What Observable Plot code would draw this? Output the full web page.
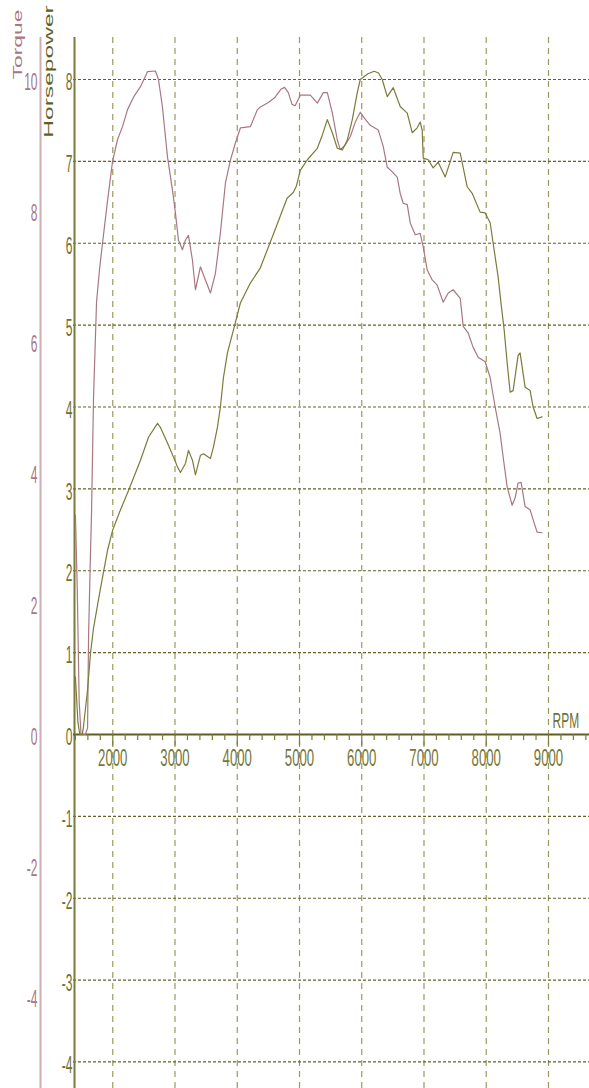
<!DOCTYPE html>
<html>
<head>
<meta charset="utf-8">
<script src="https://cdn.jsdelivr.net/npm/d3@7"></script>
<script src="https://cdn.jsdelivr.net/npm/@observablehq/plot@0.6"></script>
<style>
  html, body { margin: 0; padding: 0; background: #fff; }
</style>
</head>
<body>
<div id="chart"></div>
<script>
// Dyno run: engine speed (RPM) against horsepower and torque
const hpRpm = [1400, 1440, 1470, 1510, 1530, 1595, 1643, 1691, 1771, 1835, 1916, 1996, 2100, 2253, 2445, 2574, 2718, 2766, 2879, 2975, 3039, 3087, 3168, 3216, 3280, 3328, 3408, 3457, 3569, 3617, 3681, 3729, 3778, 3842, 3938, 4050, 4200, 4371, 4600, 4800, 4900, 4950, 5013, 5126, 5286, 5366, 5447, 5527, 5607, 5688, 5768, 5848, 5928, 5976, 6100, 6200, 6270, 6329, 6410, 6506, 6618, 6731, 6811, 6891, 6939, 6971, 6988, 7068, 7148, 7228, 7341, 7469, 7582, 7694, 7774, 7902, 7983, 8063, 8111, 8191, 8240, 8288, 8336, 8384, 8432, 8512, 8544, 8625, 8705, 8753, 8817, 8897];
const hpValues = [0.7, 0.15, 0, 0, 0.1, 0.55, 1.0, 1.3, 1.65, 1.92, 2.25, 2.49, 2.7, 2.98, 3.35, 3.63, 3.8, 3.75, 3.56, 3.39, 3.27, 3.2, 3.31, 3.47, 3.35, 3.17, 3.41, 3.43, 3.37, 3.51, 3.75, 4.0, 4.36, 4.66, 4.94, 5.27, 5.5, 5.7, 6.15, 6.55, 6.62, 6.7, 6.89, 7.02, 7.16, 7.32, 7.51, 7.35, 7.16, 7.14, 7.26, 7.51, 7.84, 8.0, 8.07, 8.1, 8.08, 8.0, 7.79, 7.9, 7.67, 7.59, 7.35, 7.41, 7.48, 7.38, 7.04, 7.02, 6.92, 6.99, 6.81, 7.11, 7.1, 6.69, 6.61, 6.38, 6.37, 6.25, 6.0, 5.59, 5.25, 4.94, 4.54, 4.18, 4.2, 4.63, 4.66, 4.24, 4.2, 4.0, 3.86, 3.88];

const torqueRpm = [1400, 1430, 1460, 1490, 1560, 1595, 1611, 1635, 1659, 1691, 1739, 1787, 1835, 1916, 1996, 2076, 2156, 2237, 2333, 2445, 2558, 2686, 2734, 2798, 2879, 2959, 3007, 3055, 3119, 3168, 3216, 3280, 3328, 3408, 3489, 3569, 3649, 3729, 3810, 3890, 3970, 4050, 4211, 4323, 4371, 4500, 4600, 4700, 4760, 4820, 4880, 4930, 5013, 5174, 5286, 5382, 5447, 5527, 5607, 5655, 5736, 5816, 5896, 5976, 6057, 6137, 6265, 6345, 6410, 6490, 6570, 6618, 6666, 6731, 6779, 6859, 6939, 6988, 7052, 7132, 7212, 7309, 7389, 7469, 7582, 7630, 7710, 7790, 7870, 7983, 8063, 8143, 8223, 8271, 8336, 8416, 8464, 8512, 8560, 8625, 8705, 8753, 8817, 8897];
const torqueValues = [3.35, 2.2, 0.5, 0, 0, 0.1, 1.5, 2.5, 3.4, 5.15, 6.6, 7.1, 7.5, 8.15, 8.75, 9.08, 9.28, 9.54, 9.73, 9.89, 10.12, 10.13, 10.0, 9.58, 8.82, 8.31, 7.96, 7.55, 7.4, 7.55, 7.62, 7.24, 6.79, 7.14, 6.94, 6.74, 7.04, 7.66, 8.42, 8.77, 9.03, 9.26, 9.28, 9.54, 9.58, 9.65, 9.72, 9.85, 9.88, 9.8, 9.62, 9.6, 9.76, 9.76, 9.64, 9.8, 9.8, 9.49, 9.08, 8.93, 9.0, 9.13, 9.35, 9.5, 9.39, 9.3, 9.23, 8.98, 8.66, 8.59, 8.51, 8.26, 8.11, 8.09, 7.81, 7.63, 7.65, 7.44, 7.09, 6.94, 6.86, 6.6, 6.74, 6.79, 6.66, 6.23, 6.13, 5.91, 5.76, 5.69, 5.45, 5.0, 4.6, 4.24, 3.78, 3.5, 3.61, 3.84, 3.85, 3.48, 3.43, 3.28, 3.09, 3.08];

// Axis ticks
const rpmTicks = [2000, 3000, 4000, 5000, 6000, 7000, 8000, 9000];
const rpmMinorTicks = d3.range(1400, 9700, 200).filter(r => r % 1000 !== 0);
const hpTicks = [8, 7, 6, 5, 4, 3, 2, 1, 0, -1, -2, -3, -4];
const torqueTicks = [10, 8, 6, 4, 2, 0, -2, -4];
const torquePerHpUnit = 1.25; // torque axis: 10 lines up with 8 hp

const hpData = hpRpm.map((r, i) => ({rpm: r, hp: hpValues[i]}));
const torqueData = torqueRpm.map((r, i) => ({rpm: r, torque: torqueValues[i]}));

const xDomain = [1369, 9659];
const yDomain = [-4.324, 8.513];

const olive = "#7b7b3a";
const oliveDark = "#5e5e22";
const gridH = "#626226";
const gridV = "#9a9a5e";
const pink = "#a87882";
const pinkAxis = "#cdaeb3";
const font = "'Liberation Sans', Arial, sans-serif";

const chart = Plot.plot({
  width: 589,
  height: 1088,
  marginLeft: 73,
  marginRight: 0,
  marginTop: 37,
  marginBottom: 0,
  style: {fontFamily: font, background: "#fff", overflow: "visible"},
  x: {type: "linear", domain: xDomain, axis: null},
  y: {type: "linear", domain: yDomain, axis: null},
  marks: [
    // grid
    Plot.ruleX(rpmTicks, {stroke: gridV, strokeWidth: 1.2, strokeDasharray: "6,5"}),
    Plot.ruleY(hpTicks.filter(v => v !== 0), {stroke: gridH, strokeWidth: 1.2, strokeDasharray: "3,2"}),
    // axis lines
    Plot.ruleX([xDomain[0]], {stroke: pinkAxis, strokeWidth: 2, dx: -33}),
    Plot.ruleX([xDomain[0]], {stroke: olive, strokeWidth: 2, dx: 1}),
    Plot.ruleY([0], {stroke: oliveDark, strokeWidth: 2}),
    // RPM ticks below the zero line
    Plot.ruleX(rpmMinorTicks, {y1: 0, y2: -0.075, stroke: olive, strokeWidth: 1.2}),
    Plot.ruleX(rpmTicks, {y1: 0, y2: -0.14, stroke: olive, strokeWidth: 1.2}),
    // curves
    Plot.line(torqueData, {x: "rpm", y: d => d.torque / torquePerHpUnit, stroke: pink, strokeWidth: 1.2}),
    Plot.line(hpData, {x: "rpm", y: "hp", stroke: olive, strokeWidth: 1.2}),
    // tick labels
    Plot.text(hpTicks, {x: xDomain[0], y: d => d, text: d => String(d), textAnchor: "end", lineAnchor: "middle", dx: -1, dy: 3, fontSize: 12, fill: "#6f6f33"}),
    Plot.text(torqueTicks, {x: xDomain[0], y: d => d / torquePerHpUnit, text: d => String(d), textAnchor: "end", lineAnchor: "middle", dx: -36, dy: 3, fontSize: 12, fill: pink}),
    Plot.text(rpmTicks, {x: d => d, y: 0, text: d => String(d), textAnchor: "middle", lineAnchor: "top", dy: 14, fontSize: 12, fill: "#77773a"}),
    Plot.text(["RPM"], {x: 9000, y: 0, text: d => d, textAnchor: "start", lineAnchor: "middle", dx: 4, dy: -14, fontSize: 12, fill: "#6f6f33"}),
    // axis titles
    Plot.text(["Horsepower"], {frameAnchor: "top-left", dx: -24, dy: 34, text: d => d, rotate: -90, textAnchor: "middle", lineAnchor: "middle", fontSize: 12, fill: oliveDark}),
    Plot.text(["Torque"], {frameAnchor: "top-left", dx: -55.5, dy: 7, text: d => d, rotate: -90, textAnchor: "middle", lineAnchor: "middle", fontSize: 12, fill: pink})
  ]
});

// Tall, narrow lettering of the dyno software: stretch each glyph run
function stretchFor(s) {
  if (s === "Horsepower") return [2.05, 1];
  if (s === "Torque") return [1.9, 1];
  if (s === "RPM") return [1, 1.9];
  if (/^\d{4}$/.test(s)) return [1.1, 2];
  return [1, 2];
}
chart.querySelectorAll("text").forEach(t => {
  const s = t.textContent.trim();
  if (!s) return;
  const [sx, sy] = stretchFor(s);
  let tr = t.getAttribute("transform");
  if (!tr) {
    const x = t.getAttribute("x") || 0, y = t.getAttribute("y") || 0;
    t.removeAttribute("x");
    t.removeAttribute("y");
    tr = `translate(${x},${y})`;
  }
  t.setAttribute("transform", `${tr} scale(${sx},${sy})`);
});

document.getElementById("chart").appendChild(chart);
</script>
</body>
</html>
